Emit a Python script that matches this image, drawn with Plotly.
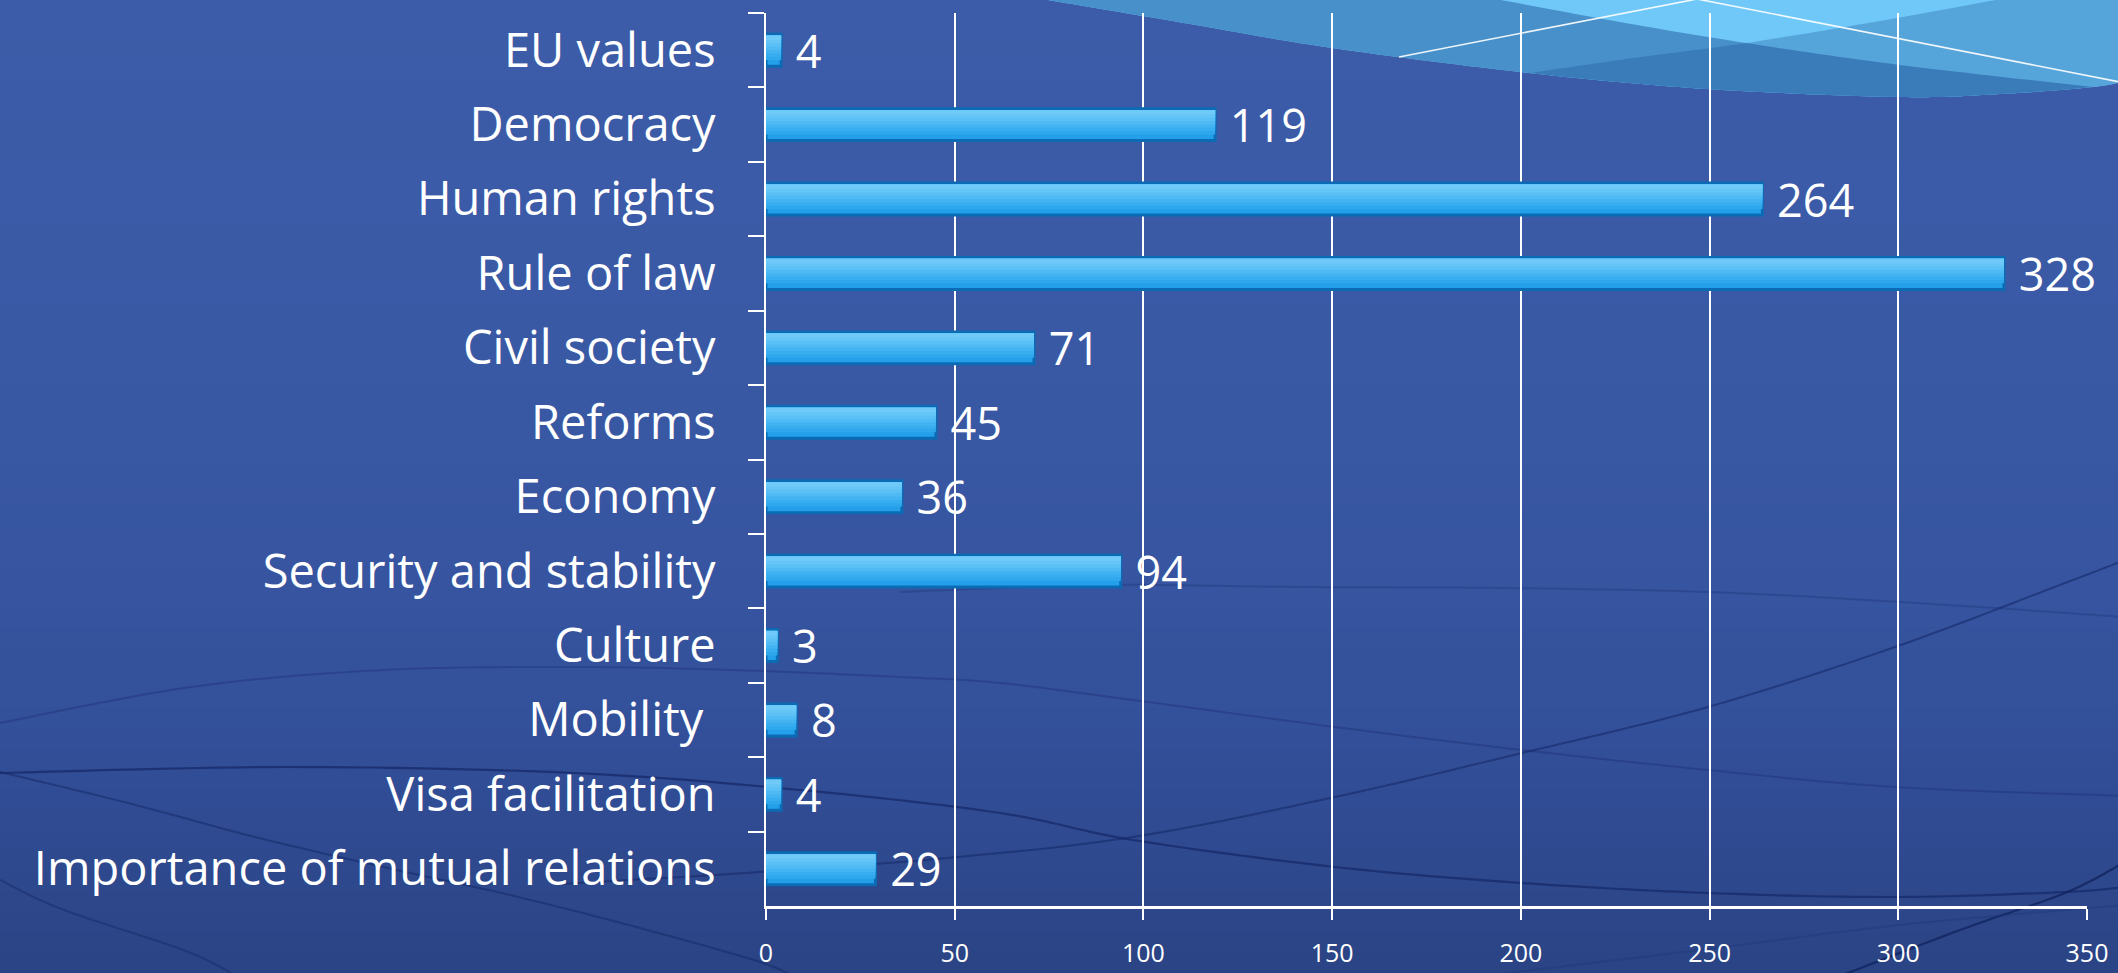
import plotly.graph_objects as go

# ---------------- data ----------------
categories = ["EU values", "Democracy", "Human rights", "Rule of law", "Civil society",
              "Reforms", "Economy", "Security and stability", "Culture", "Mobility\u00a0",
              "Visa facilitation", "Importance of mutual relations"]
values = [4, 119, 264, 328, 71, 45, 36, 94, 3, 8, 4, 29]
x_ticks = [0, 50, 100, 150, 200, 250, 300, 350]

# ---------------- layout geometry (pixels) ----------------
W, H = 2118, 973
L, R, T, B = 766, 31, 13, 67
PX0, PX1 = L, W - R
PY0, PY1 = T, H - B


def px(x):
    return (x - PX0) / (PX1 - PX0)


def py(y):
    return (PY1 - y) / (PY1 - PY0)


def cr(points, n=14):
    """Catmull-Rom densification of decorative curve points (pixel coords)."""
    out = []
    m = len(points)
    for i in range(m - 1):
        p0 = points[i - 1] if i > 0 else points[i]
        p1 = points[i]
        p2 = points[i + 1]
        p3 = points[i + 2] if i + 2 < m else points[i + 1]
        for k in range(n):
            t = k / n
            t2, t3 = t * t, t * t * t
            x = 0.5 * ((2 * p1[0]) + (-p0[0] + p2[0]) * t + (2 * p0[0] - 5 * p1[0] + 4 * p2[0] - p3[0]) * t2
                       + (-p0[0] + 3 * p1[0] - 3 * p2[0] + p3[0]) * t3)
            y = 0.5 * ((2 * p1[1]) + (-p0[1] + p2[1]) * t + (2 * p0[1] - 5 * p1[1] + 4 * p2[1] - p3[1]) * t2
                       + (-p0[1] + 3 * p1[1] - 3 * p2[1] + p3[1]) * t3)
            out.append((x, y))
    out.append(points[-1])
    return out


def path(pts, close=True):
    s = "M " + " L ".join(f"{px(x):.5f},{py(y):.5f}" for x, y in pts)
    return s + (" Z" if close else "")


shapes = []

# background vertical gradient
def hex2rgb(h):
    h = h.lstrip("#")
    return tuple(int(h[i:i + 2], 16) for i in (0, 2, 4))

stops = [(0.0, "#3c5ca9"), (0.45, "#3958a4"), (0.75, "#33509a"), (1.0, "#2a4384")]
NB = 48
for i in range(NB):
    f = (i + 0.5) / NB
    for j in range(len(stops) - 1):
        if stops[j][0] <= f <= stops[j + 1][0]:
            a, b = stops[j], stops[j + 1]
            u = (f - a[0]) / (b[0] - a[0])
            ca, cb = hex2rgb(a[1]), hex2rgb(b[1])
            col = "rgb(%d,%d,%d)" % tuple(round(ca[k] + (cb[k] - ca[k]) * u) for k in range(3))
            break
    y0 = i * H / NB - 1
    y1 = (i + 1) * H / NB + 1
    shapes.append(dict(type="rect", xref="paper", yref="paper", layer="below",
                       x0=px(-5), x1=px(W + 5), y0=py(y1), y1=py(y0),
                       fillcolor=col, line=dict(width=0)))

# decorative thin dark curves
curves = [
    ([(0, 773), (287, 767), (574, 773), (800, 790), (1000, 813), (1133, 840), (1335, 867),
      (1522, 883), (1708, 893), (1895, 897), (2065, 892), (2125, 887)], "rgba(22,42,105,0.75)", 2.2),
    ([(0, 772), (128, 803), (255, 837), (383, 867), (510, 895), (640, 928), (760, 962), (800, 980)],
     "rgba(22,42,105,0.55)", 2),
    ([(0, 880), (64, 910), (191, 953), (250, 985)], "rgba(22,42,105,0.5)", 2),
    ([(0, 723), (191, 687), (383, 670), (574, 667), (733, 670), (900, 677), (1000, 683), (1133, 700),
      (1335, 727), (1522, 750), (1708, 770), (1895, 787), (2125, 796)], "rgba(30,52,120,0.45)", 2),
    ([(560, 884), (760, 872), (947, 858), (1133, 837), (1335, 797), (1522, 753), (1708, 707),
      (1895, 647), (2065, 583), (2125, 560)], "rgba(22,42,105,0.6)", 2),
    ([(900, 592), (1100, 585), (1300, 587), (1500, 588), (1707, 592), (1900, 602), (2125, 617)],
     "rgba(30,52,120,0.35)", 2),
    ([(1830, 980), (1960, 930), (2065, 893), (2125, 862)], "rgba(18,36,95,0.8)", 2.2),
    ([(1450, 980), (1700, 950), (1900, 925), (2125, 905)], "rgba(30,52,120,0.35)", 2),
]
for pts, col, w in curves:
    shapes.append(dict(type="path", xref="paper", yref="paper", layer="below",
                       path=path(cr(pts), close=False), line=dict(color=col, width=w)))

# top-right swoosh
E = cr([(1030, -3), (1190, 24), (1332, 48), (1529, 73), (1707, 89), (1900, 97), (2000, 94),
        (2093, 87), (2125, 81)], 20)
ALPHA = cr([(1485, -3), (1620, 22), (1746, 43), (1900, 65), (2093, 87)], 16)
BETA = cr([(1529, 73), (1640, 57), (1746, 43), (1874, 22), (2012, -3)], 16)

def seg(pts, x0, x1):
    return [p for p in pts if x0 - 0.01 <= p[0] <= x1 + 0.01]

poly_light = E + [(2125, -3)]
poly_left = [(1030, -3)] + ALPHA + list(reversed(seg(E, 1030, 2093)))
poly_right = BETA + [(2125, -3), (2125, 81)] + list(reversed(seg(E, 1529, 2125)))
poly_dark = seg(BETA, 1529, 1746) + seg(ALPHA, 1746, 2093) + list(reversed(seg(E, 1529, 2093)))
for pts, col in [(poly_light, "#70c8f8"), (poly_left, "#4790c9"),
                 (poly_right, "#56a5da"), (poly_dark, "#3a7bb9")]:
    shapes.append(dict(type="path", xref="paper", yref="paper", layer="below",
                       path=path(pts), fillcolor=col, line=dict(width=0)))
shapes.append(dict(type="path", xref="paper", yref="paper", layer="below",
                   path=path([(1399, 57), (1697, -1), (2125, 83)], close=False),
                   line=dict(color="rgba(255,255,255,0.9)", width=1.6)))

# ---------------- traces ----------------
FONT = "Open Sans, Lato, DejaVu Sans, sans-serif"
fig = go.Figure()
fig.add_trace(go.Bar(
    y=categories, x=values, orientation="h",
    width=0.43, offset=-0.215,
    marker=dict(color="#24a0ea", line=dict(color="#0b6cb5", width=3)),
    texttemplate="\u00a0%{x}", textposition="outside",
    textfont=dict(family=FONT, size=45, color="white"),
    cliponaxis=False, constraintext="none", showlegend=False,
))
# vertical gradient of each bar (same data, lighter towards the top)
grad = [(0.33, "#2ea7ed"), (0.285, "#38adef"), (0.24, "#43b3f1"), (0.195, "#4fbaf3"),
        (0.15, "#5bc0f5"), (0.105, "#66c5f7"), (0.06, "#6fcaf9")]
for wid, col in grad:
    fig.add_trace(go.Bar(
        y=categories, x=values, orientation="h",
        width=wid, offset=-0.197,
        marker=dict(color=col, line=dict(width=0)),
        hoverinfo="skip", showlegend=False, textposition="none",
    ))

fig.update_layout(
    width=W, height=H, autosize=False,
    margin=dict(l=L, r=R, t=T, b=B, pad=0, autoexpand=False),
    paper_bgcolor="#3958a4",
    plot_bgcolor="rgba(0,0,0,0)",
    barmode="overlay",
    font=dict(family=FONT, color="white"),
    shapes=shapes,
    showlegend=False,
    xaxis=dict(
        range=[0, 350], tickvals=x_ticks, ticktext=[str(v) for v in x_ticks],
        showgrid=True, gridcolor="white", gridwidth=1.5,
        showline=True, linecolor="white", linewidth=2.5,
        ticks="outside", ticklen=11, tickwidth=1.5, tickcolor="white",
        tickfont=dict(family=FONT, size=25, color="white"),
        ticklabelstandoff=12, zeroline=False, fixedrange=True, automargin=False,
    ),
    yaxis=dict(
        type="category", categoryorder="array", categoryarray=categories,
        range=[11.5, -0.5],
        showgrid=False, showline=True, linecolor="white", linewidth=2,
        ticks="outside", tickson="boundaries", ticklen=16, tickwidth=1.5, tickcolor="white",
        tickfont=dict(family=FONT, size=47, color="white"),
        ticklabelstandoff=39, zeroline=False, fixedrange=True, automargin=False,
    ),
)

fig.write_html(
    "out.html",
    config={"displayModeBar": False},
    post_script="document.body.style.margin='0';document.body.style.overflow='hidden';",
)
